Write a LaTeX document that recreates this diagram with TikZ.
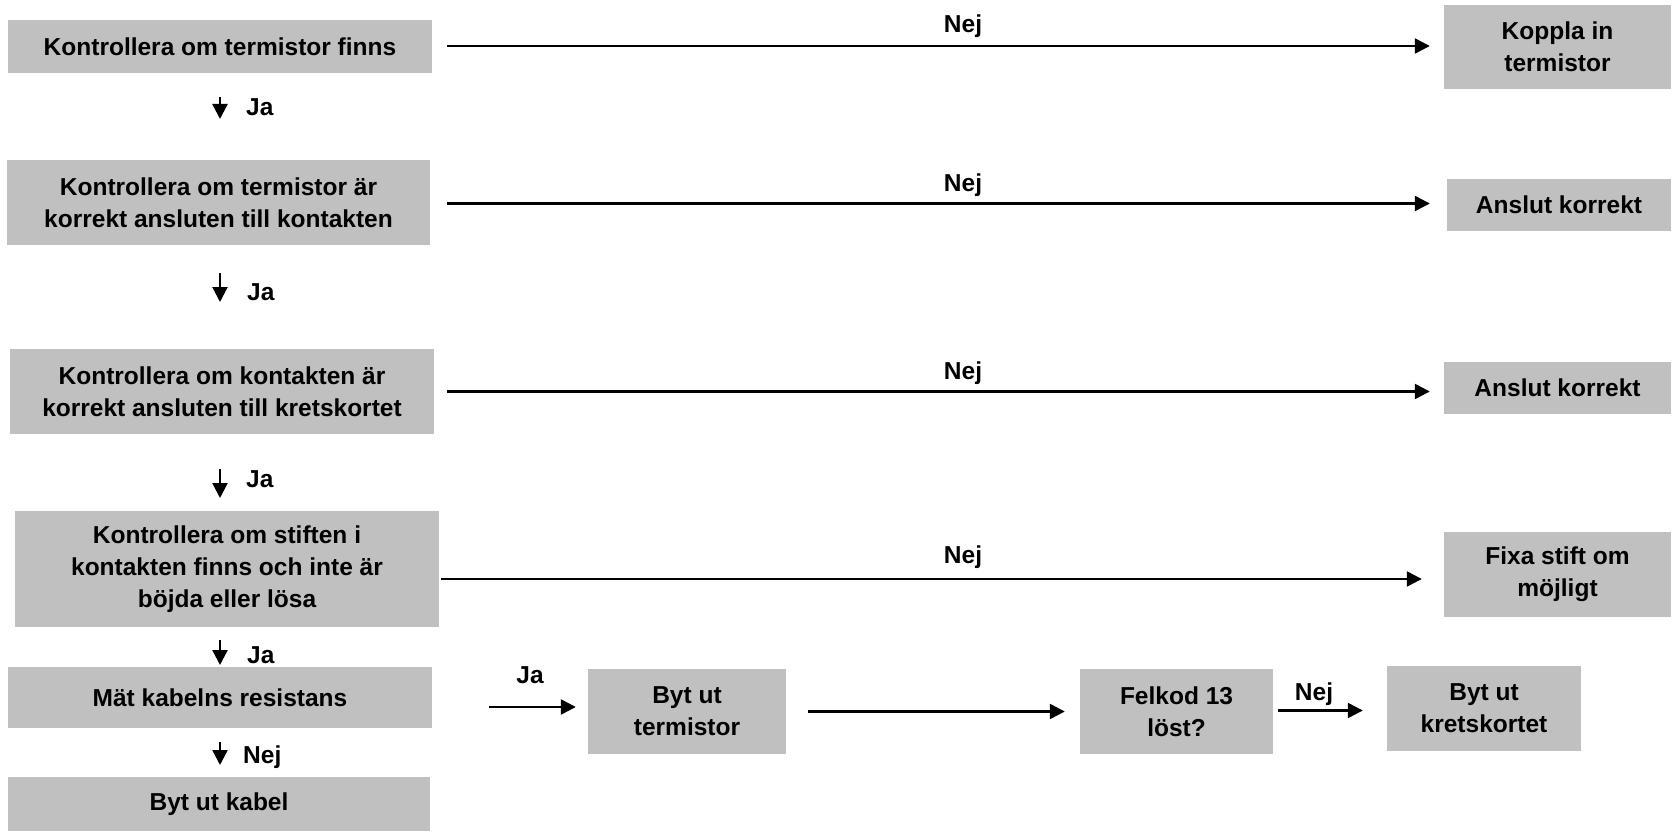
\documentclass[tikz,border=0pt]{standalone}
\usepackage{fontspec}
\setmainfont{Liberation Sans}
\usetikzlibrary{arrows.meta,calc}
\definecolor{boxgray}{RGB}{192,192,192}
\begin{document}
\begin{tikzpicture}[x=1pt,y=-1pt,
  box/.style={fill=boxgray, inner sep=0pt, align=center, font=\bfseries\fontsize{24.5}{32}\selectfont},
  lbl/.style={inner sep=0pt, font=\bfseries\fontsize{24.5}{32}\selectfont},
  arr/.style={line width=2.4pt, -{Triangle[length=15pt,width=15pt]}}
]
\useasboundingbox (0,0) rectangle (1673,832);
% left column
\node[box, minimum width=424pt, minimum height=53pt] (b1) at (220,46.5) {Kontrollera om termistor finns};
\node[box, minimum width=423pt, minimum height=85pt] (b2) at (218.5,202.5) {Kontrollera om termistor är\\korrekt ansluten till kontakten};
\node[box, minimum width=424pt, minimum height=85pt] (b3) at (222,391.5) {Kontrollera om kontakten är\\korrekt ansluten till kretskortet};
\node[box, minimum width=424pt, minimum height=116pt] (b4) at (227,569) {Kontrollera om stiften i\\kontakten finns och inte är\\böjda eller lösa};
\node[box, minimum width=424pt, minimum height=61pt] (b5) at (220,697.5) {Mät kabelns resistans};
\node[box, minimum width=422pt, minimum height=54pt] (b6) at (219,804) {Byt ut kabel};
% right column
\node[box, minimum width=227pt, minimum height=84pt] (r1) at (1557.5,47) {Koppla in\\termistor};
\node[box, minimum width=224pt, minimum height=52pt] (r2) at (1559,205) {Anslut korrekt};
\node[box, minimum width=227pt, minimum height=52pt] (r3) at (1557.5,388) {Anslut korrekt};
\node[box, minimum width=227pt, minimum height=85pt] (r4) at (1557.5,574.5) {Fixa stift om\\möjligt};
% bottom row
\node[box, minimum width=198pt, minimum height=85pt] (t) at (687,711.5) {Byt ut\\termistor};
\node[box, minimum width=193pt, minimum height=85pt] (f) at (1176.5,711.5) {Felkod 13\\löst?};
\node[box, minimum width=194pt, minimum height=85pt] (k) at (1484,708.5) {Byt ut\\kretskortet};
% long Nej arrows
\draw[arr] ($(b1.east)+(15,-0.5)$) -- ($(b1.east -| r1.west)+(-14,-0.5)$);
\draw[arr] ($(b2.east)+(17,1)$) -- ($(b2.east -| r2.west)+(-17,1)$);
\draw[arr] ($(b3.east)+(13,0)$) -- ($(b3.east -| r3.west)+(-14,0)$);
\draw[arr] ($(b4.east)+(2,10)$) -- ($(b4.east -| r4.west)+(-22,10)$);
\node[lbl, anchor=base] (n1) at (963,33) {Nej};
\node[lbl, anchor=base] (n2) at (963,191) {Nej};
\node[lbl, anchor=base] (n3) at (963,379) {Nej};
\node[lbl, anchor=base] (n4) at (963,563) {Nej};
% vertical arrows
\coordinate (v1a) at (220,97);  \coordinate (v1b) at (220,119);
\coordinate (v2a) at (220,273); \coordinate (v2b) at (220,302);
\coordinate (v3a) at (220,469); \coordinate (v3b) at (220,498);
\coordinate (v4a) at (220,640); \coordinate (v4b) at (220,665);
\coordinate (v5a) at (220,742); \coordinate (v5b) at (220,765);
\draw[arr] (v1a) -- (v1b);
\draw[arr] (v2a) -- (v2b);
\draw[arr] (v3a) -- (v3b);
\draw[arr] (v4a) -- (v4b);
\draw[arr] (v5a) -- (v5b);
\node[lbl, anchor=base west] (j1) at (246,116) {Ja};
\node[lbl, anchor=base west] (j2) at (247,300) {Ja};
\node[lbl, anchor=base west] (j3) at (246,487) {Ja};
\node[lbl, anchor=base west] (j4) at (247,663) {Ja};
\node[lbl, anchor=base west] (j5) at (243,763) {Nej};
% bottom row arrows
\coordinate (h1a) at (489,707);
\draw[arr] (h1a) -- (h1a -| {$(t.west)+(-12,0)$});
\node[lbl, anchor=base] (jh) at (530,683) {Ja};
\draw[arr] ($(t.east)+(22,0)$) -- ($(f.west)+(-15,0)$);
\draw[arr] ($(f.east)+(5,-1)$) -- ($(f.east -| k.west)+(-24,-1)$);
\node[lbl, anchor=base] (nh) at (1314,700) {Nej};
\end{tikzpicture}
\end{document}
